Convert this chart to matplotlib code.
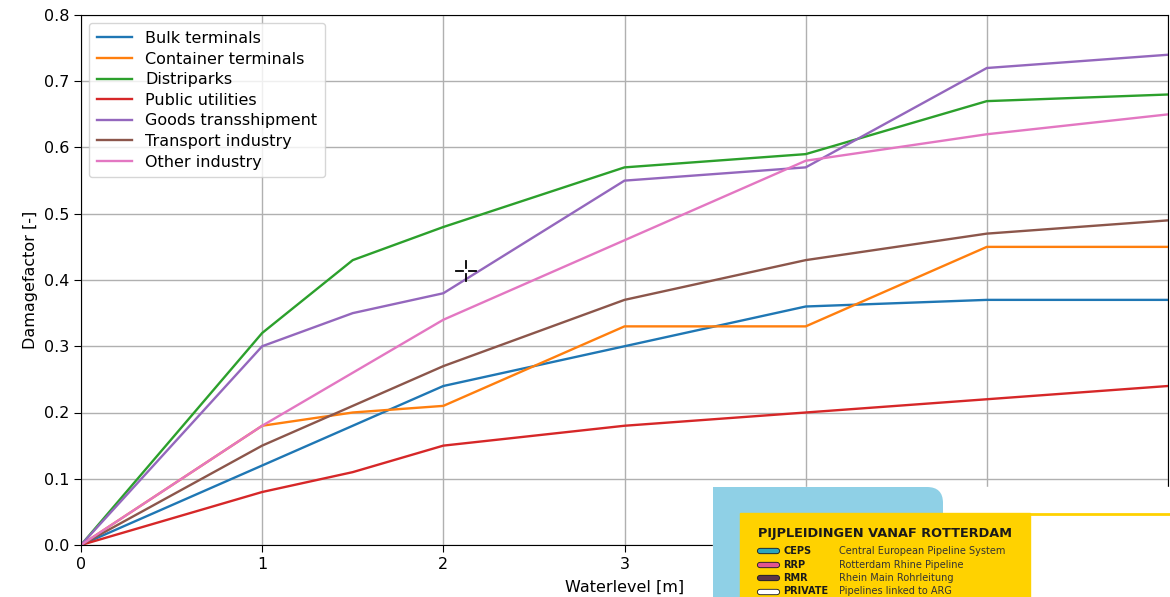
import matplotlib
matplotlib.use("Agg")
import matplotlib.pyplot as plt
from matplotlib.patches import Rectangle, PathPatch
from matplotlib.path import Path
from matplotlib.lines import Line2D

# waterlevel [m]
waterlevel = [0, 1, 1.5, 2, 3, 4, 5, 6]

bulk_terminals = [0, 0.12, 0.18, 0.24, 0.30, 0.36, 0.37, 0.37]
container_terminals = [0, 0.18, 0.20, 0.21, 0.33, 0.33, 0.45, 0.45]
distriparks = [0, 0.32, 0.43, 0.48, 0.57, 0.59, 0.67, 0.68]
public_utilities = [0, 0.08, 0.11, 0.15, 0.18, 0.20, 0.22, 0.24]
goods_transshipment = [0, 0.30, 0.35, 0.38, 0.55, 0.57, 0.72, 0.74]
transport_industry = [0, 0.15, 0.21, 0.27, 0.37, 0.43, 0.47, 0.49]
other_industry = [0, 0.18, 0.26, 0.34, 0.46, 0.58, 0.62, 0.65]

series_names = ["Bulk terminals", "Container terminals", "Distriparks",
                "Public utilities", "Goods transshipment",
                "Transport industry", "Other industry"]
series_values = [bulk_terminals, container_terminals, distriparks,
                 public_utilities, goods_transshipment,
                 transport_industry, other_industry]

# x tick labels; 4, 5 and 6 sit under the pasted picture
xtick_labels = ["0", "1", "2", "3", "", "", ""]

# pipeline legend of the image pasted over the bottom right corner
pipe_codes = ["CEPS", "RRP", "RMR", "PRIVATE"]
pipe_names = ["Central European Pipeline System", "Rotterdam Rhine Pipeline",
              "Rhein Main Rohrleitung", "Pipelines linked to ARG"]
pipe_colors = ["#2ba6bd", "#e2558e", "#5b3446", "white"]

plt.rcParams['font.family'] = ['DejaVu Sans']
fig = plt.figure(figsize=(11.7, 5.97), dpi=100)
ax = fig.add_axes([81 / 1170, 1 - 545 / 597, (1168 - 81) / 1170, 530 / 597])

colors = plt.rcParams['axes.prop_cycle'].by_key()['color']
for name, vals, c in zip(series_names, series_values, colors):
    ax.plot(waterlevel, vals, color=c, lw=1.7, label=name)

ax.set_xlim(0, 6)
ax.set_ylim(0, 0.8)
ax.set_xticks(range(0, 7))
ax.set_xticklabels(xtick_labels)
ax.grid(True, color='#b0b0b0', lw=1.0)
ax.tick_params(labelsize=11.5, length=5)
ax.set_xlabel("Waterlevel [m]", fontsize=11.5, labelpad=6)
ax.set_ylabel("Damagefactor [-]", fontsize=11.5)
ax.legend(loc='upper left', fontsize=11.5, handlelength=2.2,
          borderpad=0.5, labelspacing=0.35, framealpha=0.8)

# mouse cursor left in the screenshot
cx, cy = 466 / 1170, 1 - 271 / 597
for dx0, dx1, dy0, dy1 in [(-10, -3, 0, 0), (3, 10, 0, 0), (0, 0, -10, -3), (0, 0, 3, 10)]:
    fig.add_artist(Line2D([cx + dx0 / 1170, cx + dx1 / 1170],
                          [cy + dy0 / 597, cy + dy1 / 597], color='black', lw=1.3))


# overlaid picture, drawn in pixel-based figure coordinates
def fx(px):
    return px / 1170


def fy(py):
    return 1 - py / 597


fig.add_artist(Rectangle((fx(713), 0), fx(1170 - 713), fy(487), color='white', zorder=5))
r = 16
verts = [(fx(713), fy(600)), (fx(713), fy(487)), (fx(943 - r), fy(487)),
         (fx(943), fy(487)), (fx(943), fy(487 + r)), (fx(943), fy(600)),
         (fx(713), fy(600))]
codes = [Path.MOVETO, Path.LINETO, Path.LINETO, Path.CURVE3, Path.CURVE3,
         Path.LINETO, Path.CLOSEPOLY]
fig.add_artist(PathPatch(Path(verts, codes), facecolor='#8fd0e6',
                         edgecolor='none', zorder=6))
fig.add_artist(Rectangle((fx(740), 0), fx(1030 - 740), fy(513), color='#ffd200', zorder=7))
fig.add_artist(Line2D([fx(1030), 1], [fy(514), fy(514)], color='#ffd200', lw=2, zorder=7))
fig.text(fx(758), fy(534), "PIJPLEIDINGEN VANAF ROTTERDAM", fontsize=9.3,
         fontweight='bold', color='#1a1a1a', va='center', zorder=8)
for i, (code, nm, pc) in enumerate(zip(pipe_codes, pipe_names, pipe_colors)):
    y = fy(551 + 13.5 * i)
    fig.add_artist(Line2D([fx(760), fx(777)], [y, y], color='#222222', lw=4.5,
                          solid_capstyle='round', zorder=8))
    fig.add_artist(Line2D([fx(760), fx(777)], [y, y], color=pc, lw=3.2,
                          solid_capstyle='round', zorder=8))
    fig.text(fx(783), y, code, fontsize=7, fontweight='bold', color='#1a1a1a',
             va='center', zorder=8)
    fig.text(fx(839), y, nm, fontsize=7, color='#333333', va='center', zorder=8)

fig.savefig("out.png", dpi=100)
